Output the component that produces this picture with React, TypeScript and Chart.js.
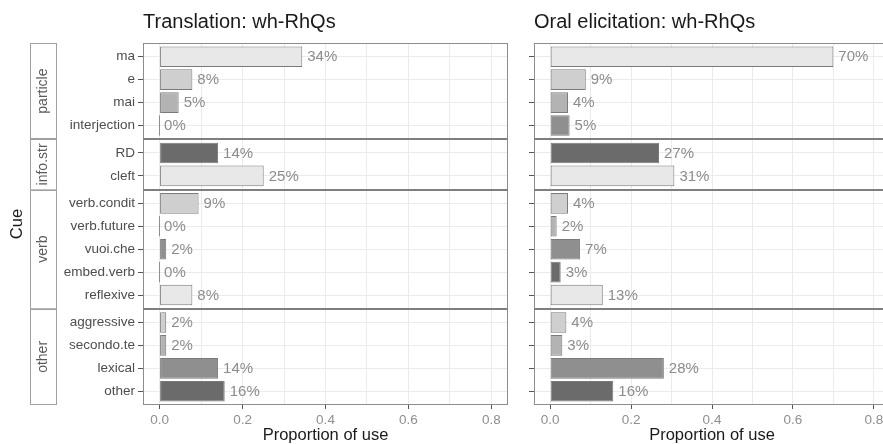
import React, { useEffect, useRef } from 'react';
import { Chart, registerables } from 'chart.js';

Chart.register(...registerables);

// ---- data ----
const categories = [
  'ma', 'e', 'mai', 'interjection',
  'RD', 'cleft',
  'verb.condit', 'verb.future', 'vuoi.che', 'embed.verb', 'reflexive',
  'aggressive', 'secondo.te', 'lexical', 'other',
];
const facetNames = ['particle', 'info.str', 'verb', 'other'];
const categoryFacet = [0, 0, 0, 0, 1, 1, 2, 2, 2, 2, 2, 3, 3, 3, 3];
const translationValues = [0.344, 0.079, 0.046, 0, 0.141, 0.251, 0.094, 0, 0.016, 0, 0.079, 0.016, 0.016, 0.141, 0.157];
const oralValues = [0.70, 0.088, 0.044, 0.048, 0.269, 0.307, 0.044, 0.016, 0.074, 0.026, 0.130, 0.040, 0.030, 0.281, 0.156];
const xTicks = [0, 0.1, 0.2, 0.3, 0.4, 0.5, 0.6, 0.7, 0.8];
const panelTitles = ['Translation: wh-RhQs', 'Oral elicitation: wh-RhQs'];
const xTitle = 'Proportion of use';
const yTitle = 'Cue';
const shades = ['#e8e8e8', '#cfcfcf', '#b3b3b3', '#8f8f8f', '#6b6b6b'];

// ---- discrete layout (ggplot-like: 0.6 expansion at each facet edge) ----
const EXPAND = 0.6;
const positions = categories.map((_, i) => i + EXPAND + (2 * EXPAND - 1) * categoryFacet[i]);
const yMax = positions[positions.length - 1] + EXPAND;
const facetBounds = facetNames.map((name, f) => {
  const idx = categories.map((_, i) => i).filter((i) => categoryFacet[i] === f);
  return {
    name,
    start: positions[idx[0]] - EXPAND,
    end: positions[idx[idx.length - 1]] + EXPAND,
  };
});

const FONT = '"Liberation Sans", Arial, Helvetica, sans-serif';
Chart.defaults.font.family = FONT;

function makeChart(canvas: HTMLCanvasElement, values: number[], side: number) {
  const isLeft = side === 0;
  const data = positions.map((p, i) => ({ x: values[i], y: p }));

  const panelPlugin = {
    id: 'panelDecor',
    afterDatasetsDraw(chart: any) {
      const { ctx } = chart;
      const meta = chart.getDatasetMeta(0);
      ctx.save();
      ctx.font = `15px ${FONT}`;
      ctx.fillStyle = '#8c8c8c';
      ctx.textAlign = 'left';
      ctx.textBaseline = 'middle';
      meta.data.forEach((bar: any, i: number) => {
        ctx.fillText(Math.round(values[i] * 100) + '%', bar.x + 5, bar.y + 0.5);
      });
      ctx.restore();
    },
    afterDraw(chart: any) {
      const { ctx, chartArea: a, scales } = chart;
      const y = scales.y;
      ctx.save();
      // panel border
      ctx.strokeStyle = '#8c8c8c';
      ctx.lineWidth = 1;
      ctx.strokeRect(a.left + 0.5, a.top + 0.5, a.right - a.left - 1, a.bottom - a.top - 1);
      // facet separators
      ctx.strokeStyle = '#7f7f7f';
      ctx.lineWidth = 2;
      facetBounds.slice(0, -1).forEach((b) => {
        const py = Math.round(y.getPixelForValue(b.end));
        ctx.beginPath();
        ctx.moveTo(a.left, py);
        ctx.lineTo(a.right, py);
        ctx.stroke();
      });
      if (isLeft) {
        // strips
        const sx = 30.5;
        const sw = 26;
        facetBounds.forEach((b) => {
          const p0 = y.getPixelForValue(b.start);
          const p1 = y.getPixelForValue(b.end);
          ctx.fillStyle = '#ffffff';
          ctx.fillRect(sx, p0, sw, p1 - p0);
          ctx.strokeStyle = '#a0a0a0';
          ctx.lineWidth = 1;
          ctx.strokeRect(sx, Math.round(p0) + 0.5, sw, Math.round(p1) - Math.round(p0) - 1);
          ctx.save();
          ctx.translate(sx + sw / 2, (p0 + p1) / 2);
          ctx.rotate(-Math.PI / 2);
          ctx.font = `14px ${FONT}`;
          ctx.fillStyle = '#5a5a5a';
          ctx.textAlign = 'center';
          ctx.textBaseline = 'middle';
          ctx.fillText(b.name, 0, 0);
          ctx.restore();
        });
        // y title
        ctx.save();
        ctx.translate(17, (a.top + a.bottom) / 2);
        ctx.rotate(-Math.PI / 2);
        ctx.font = `16.5px ${FONT}`;
        ctx.fillStyle = '#1a1a1a';
        ctx.textAlign = 'center';
        ctx.textBaseline = 'middle';
        ctx.fillText(yTitle, 0, 0);
        ctx.restore();
      }
      ctx.restore();
    },
  };

  const isMajor = (v: number) => Math.round(v * 10) % 2 === 0;

  return new Chart(canvas, {
    type: 'bar',
    data: {
      datasets: [
        {
          data: data as any,
          backgroundColor: categories.map((_, i) => shades[i % shades.length]),
          borderColor: '#7a7a7a',
          borderWidth: 1,
          borderSkipped: false,
          barPercentage: 0.9,
          categoryPercentage: 1,
          minBarLength: 1,
        },
      ],
    },
    options: {
      indexAxis: 'y',
      responsive: false,
      animation: false,
      layout: {
        padding: isLeft ? { left: 60, right: 12, top: 0, bottom: 0 } : { left: 0, right: 10, top: 0, bottom: 0 },
      },
      plugins: {
        legend: { display: false },
        tooltip: { enabled: false },
        title: {
          display: true,
          text: panelTitles[side],
          align: 'start',
          fullSize: false,
          color: '#1a1a1a',
          font: { size: 20, family: FONT, weight: 'normal' },
          padding: { top: 10.5, bottom: 8.5 },
        },
      },
      scales: {
        x: {
          type: 'linear',
          min: -0.04,
          max: 0.84,
          offset: false,
          afterBuildTicks: (s: any) => {
            s.ticks = xTicks.map((v) => ({ value: v }));
          },
          afterFit: (s: any) => {
            s.height = 39;
          },
          ticks: {
            autoSkip: false,
            maxRotation: 0,
            padding: 3,
            color: '#8f8f8f',
            font: { size: 13.5 },
            callback: (v: any) => (isMajor(Number(v)) ? Number(v).toFixed(1) : ''),
          },
          grid: {
            offset: false,
            color: '#ebebeb',
            lineWidth: 1,
            tickLength: 4,
            tickColor: (ctx: any) => (ctx.tick && isMajor(ctx.tick.value) ? '#555555' : 'rgba(0,0,0,0)'),
          },
          border: { display: false },
          title: {
            display: true,
            text: xTitle,
            color: '#1a1a1a',
            font: { size: 16.5, lineHeight: 1 },
            padding: { top: 0, bottom: 0 },
          },
        },
        y: {
          type: 'linear',
          reverse: true,
          min: 0,
          max: yMax,
          offset: false,
          afterBuildTicks: (s: any) => {
            s.ticks = positions.map((v) => ({ value: v }));
          },
          afterFit: (s: any) => {
            s.width = isLeft ? 83 : 14;
          },
          ticks: {
            autoSkip: false,
            padding: 3,
            color: '#4d4d4d',
            font: { size: 13.5 },
            callback: (_v: any, i: number) => (isLeft ? categories[i] : ''),
          },
          grid: {
            offset: false,
            color: '#ebebeb',
            lineWidth: 1,
            tickLength: 5,
            tickColor: '#555555',
          },
          border: { display: false },
        },
      },
    } as any,
    plugins: [panelPlugin],
  });
}

export default function App() {
  const leftRef = useRef<HTMLCanvasElement>(null);
  const rightRef = useRef<HTMLCanvasElement>(null);

  useEffect(() => {
    const c1 = makeChart(leftRef.current!, translationValues, 0);
    const c2 = makeChart(rightRef.current!, oralValues, 1);
    return () => {
      c1.destroy();
      c2.destroy();
    };
  }, []);

  return (
    <div
      style={{
        position: 'fixed',
        left: 0,
        top: 0,
        width: 883,
        height: 444,
        overflow: 'hidden',
        background: '#ffffff',
      }}
    >
      <canvas
        ref={leftRef}
        width={520}
        height={444}
        style={{ position: 'absolute', left: 0, top: 0, width: 520, height: 444 }}
      />
      <canvas
        ref={rightRef}
        width={380}
        height={444}
        style={{ position: 'absolute', left: 520, top: 0, width: 380, height: 444 }}
      />
    </div>
  );
}
